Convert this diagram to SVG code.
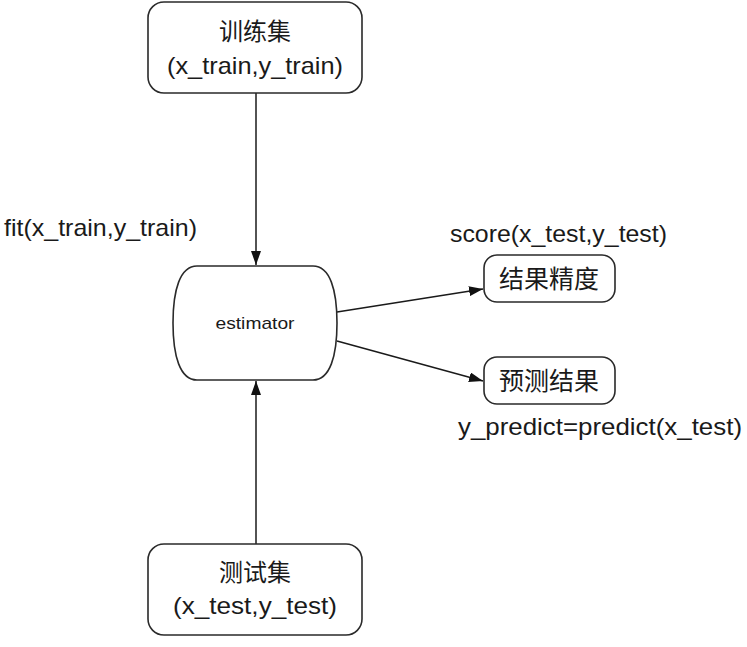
<svg xmlns="http://www.w3.org/2000/svg" width="747" height="647" viewBox="0 0 747 647">
<style>
.box{fill:#fff;stroke:#2a2a2a;stroke-width:1.6}
.edge{fill:none;stroke:#1a1a1a;stroke-width:1.5}
.t{font-family:"Liberation Sans","Noto Sans CJK SC",Arial,sans-serif;fill:#1a1a1a}
.cjk{font-family:"Noto Sans CJK SC","Liberation Sans",sans-serif;fill:#1a1a1a}
</style>
<defs>
<marker id="ah" viewBox="0 0 14 10" refX="14" refY="5" markerWidth="14" markerHeight="10" markerUnits="userSpaceOnUse" orient="auto">
<path d="M0,0 L14,5 L0,10 Z" fill="#111"/>
</marker>
</defs>
<rect width="747" height="647" fill="#fff"/>
<g id="connectors">
<line class="edge" x1="256" y1="93" x2="256" y2="265" marker-end="url(#ah)"/>
<line class="edge" x1="256" y1="544" x2="256" y2="381" marker-end="url(#ah)"/>
<line class="edge" x1="337" y1="312" x2="483" y2="289" marker-end="url(#ah)"/>
<line class="edge" x1="337" y1="341" x2="483" y2="381" marker-end="url(#ah)"/>
</g>
<g id="train">
<rect class="box" x="148" y="2" width="214" height="91" rx="16"/>
<text class="cjk" x="255" y="40" font-size="24" text-anchor="middle">训练集</text>
<text class="t" x="255" y="74" font-size="24" text-anchor="middle" textLength="176" lengthAdjust="spacingAndGlyphs">(x_train,y_train)</text>
</g>
<g id="estimator">
<path class="box" d="M197,266 H313 C330,266 337,290 337,323 C337,356 330,380 313,380 H197 C180,380 173,356 173,323 C173,290 180,266 197,266 Z"/>
<text class="t" x="255" y="329" font-size="17" text-anchor="middle" textLength="79" lengthAdjust="spacingAndGlyphs">estimator</text>
</g>
<g id="test">
<rect class="box" x="148" y="544" width="214" height="91" rx="16"/>
<text class="cjk" x="255" y="581" font-size="24" text-anchor="middle">测试集</text>
<text class="t" x="255" y="614" font-size="24" text-anchor="middle" textLength="164" lengthAdjust="spacingAndGlyphs">(x_test,y_test)</text>
</g>
<g id="accuracy">
<rect class="box" x="484" y="255" width="131" height="47" rx="13"/>
<text class="cjk" x="549" y="288" font-size="25" text-anchor="middle">结果精度</text>
</g>
<g id="prediction">
<rect class="box" x="484" y="357" width="131" height="47" rx="13"/>
<text class="cjk" x="549" y="390" font-size="25" text-anchor="middle">预测结果</text>
</g>
<g id="labels">
<text class="t" x="4" y="236" font-size="24" textLength="193" lengthAdjust="spacingAndGlyphs">fit(x_train,y_train)</text>
<text class="t" x="450" y="242" font-size="24" textLength="217" lengthAdjust="spacingAndGlyphs">score(x_test,y_test)</text>
<text class="t" x="458" y="435" font-size="24" textLength="284" lengthAdjust="spacingAndGlyphs">y_predict=predict(x_test)</text>
</g>
</svg>
